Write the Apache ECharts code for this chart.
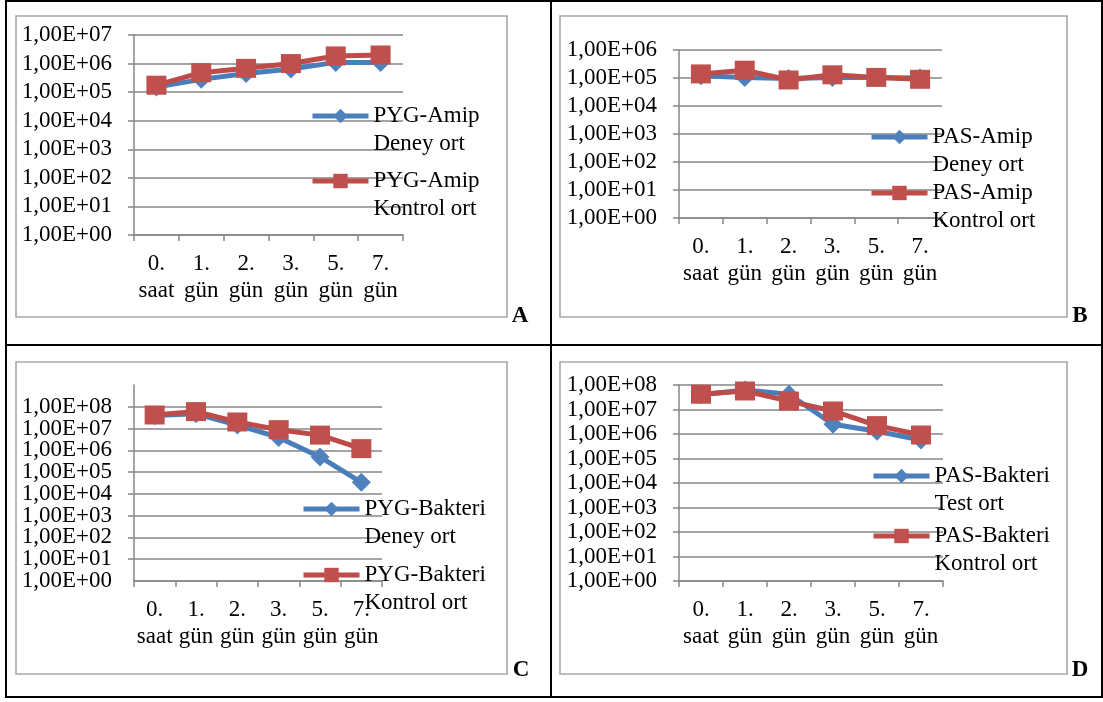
<!DOCTYPE html>
<html>
<head>
<meta charset="utf-8">
<script src="https://cdn.jsdelivr.net/npm/echarts@6/dist/echarts.min.js"></script>
<style>
    html, body {margin: 0; padding: 0; background: #fff;}
    #main {width: 1103px; height: 702px;}
</style>
</head>
<body>
<div id="main"></div>
<script>
    // kategoriler (ortak)
    var days = ['0.\nsaat', '1.\ngün', '2.\ngün', '3.\ngün', '5.\ngün', '7.\ngün'];

    // A - PYG-Amip
    var pygAmipDeney = [1.5e5, 2.8e5, 4.5e5, 6.5e5, 1.1e6, 1.1e6];
    var pygAmipKontrol = [1.75e5, 4.8e5, 6.8e5, 1.0e6, 1.85e6, 2.0e6];

    // B - PAS-Amip
    var pasAmipDeney = [1.2e5, 1.05e5, 9.5e4, 1.05e5, 1.05e5, 1.0e5];
    var pasAmipKontrol = [1.4e5, 1.9e5, 8.5e4, 1.3e5, 1.05e5, 9.0e4];

    // C - PYG-Bakteri
    var pygBakteriDeney = [4.0e7, 4.8e7, 1.45e7, 3.9e6, 5.0e5, 3.4e4];
    var pygBakteriKontrol = [4.2e7, 6.0e7, 2.0e7, 8.9e6, 5.0e6, 1.2e6];

    // D - PAS-Bakteri
    var pasBakteriTest = [4.0e7, 6.2e7, 4.2e7, 2.5e6, 1.3e6, 5.7e5];
    var pasBakteriKontrol = [4.2e7, 5.7e7, 2.2e7, 8.7e6, 2.2e6, 9.1e5];

    var seriesNames = [
        ['PYG-Amip Deney ort', 'PYG-Amip Kontrol ort'],
        ['PAS-Amip Deney ort', 'PAS-Amip Kontrol ort'],
        ['PYG-Bakteri Deney ort', 'PYG-Bakteri Kontrol ort'],
        ['PAS-Bakteri Test ort', 'PAS-Bakteri Kontrol ort']
    ];
    var seriesData = [
        [pygAmipDeney, pygAmipKontrol],
        [pasAmipDeney, pasAmipKontrol],
        [pygBakteriDeney, pygBakteriKontrol],
        [pasBakteriTest, pasBakteriKontrol]
    ];
    var yMax = [1e7, 1e6, 1e9, 1e8];
    // C grafiginde en ust deger (1e9) etiketsiz ve cizgisiz
    var hideTop = [false, false, true, false];

    var FONT = "'Liberation Serif', 'Times New Roman', serif";
    var GRAY = '#868686';
    var BLUE = '#4A7EBB';
    var RED = '#BE4B48';

    // grid konumlari
    var grids = [
        {left: 134, right: 700, top: 35, bottom: 467},
        {left: 679, right: 161, top: 50, bottom: 484},
        {left: 134, right: 721, top: 385, bottom: 121},
        {left: 679, right: 160, top: 385, bottom: 121}
    ];
    // legend: ikon sol x, mavi ve kirmizi ikon merkez y
    var legendPos = [
        {x: 310, y: [116, 181]},
        {x: 869, y: [137, 193]},
        {x: 301, y: [509, 575]},
        {x: 871, y: [476, 536]}
    ];

    function expLabel(v) {
        var e = Math.round(Math.log(v) / Math.LN10);
        return '1,00E+' + (e < 10 ? '0' : '') + e;
    }

    var option = {
        backgroundColor: '#fff',
        animation: false,
        grid: [],
        xAxis: [],
        yAxis: [],
        legend: [],
        series: [],
        graphic: []
    };

    for (var i = 0; i < 4; i++) {
        option.grid.push({
            left: grids[i].left, right: grids[i].right, top: grids[i].top, bottom: grids[i].bottom,
            outerBoundsMode: 'none', containLabel: false
        });
        option.xAxis.push({
            type: 'category',
            gridIndex: i,
            data: days,
            boundaryGap: true,
            axisLine: {show: true, lineStyle: {color: GRAY, width: 1.5}},
            axisTick: {show: true, inside: false, length: 6, lineStyle: {color: GRAY, width: 1.5}},
            axisLabel: {interval: 0, margin: 15, color: '#000', fontFamily: FONT, fontSize: 23, lineHeight: 27},
            splitLine: {show: false}
        });
        option.yAxis.push({
            type: 'log',
            logBase: 10,
            gridIndex: i,
            min: 1,
            max: yMax[i],
            axisLine: {show: true, lineStyle: {color: GRAY, width: 1.5}},
            axisTick: {show: true, inside: false, length: 6, lineStyle: {color: GRAY, width: 1.5}},
            axisLabel: {
                margin: 22, color: '#000', fontFamily: FONT, fontSize: 23, lineHeight: 18,
                // C'de sik etiketler: en alttaki ayri eksende
                showMinLabel: !hideTop[i],
                showMaxLabel: !hideTop[i],
                hideOverlap: false,
                formatter: expLabel
            },
            splitLine: {show: true, showMaxLine: !hideTop[i], lineStyle: {color: GRAY, width: 1.5}},
            minorTick: {show: false},
            minorSplitLine: {show: false}
        });
        for (var k = 0; k < 2; k++) {
            var name = seriesNames[i][k];
            option.series.push({
                name: name,
                type: 'line',
                xAxisIndex: i,
                yAxisIndex: i,
                data: seriesData[i][k],
                symbol: k === 0 ? 'diamond' : 'rect',
                symbolSize: k === 0 ? [19, 19] : [20, 19],
                showAllSymbol: true,
                lineStyle: {color: k === 0 ? BLUE : RED, width: 5},
                itemStyle: {color: k === 0 ? '#4F81BD' : '#C0504D', borderWidth: 0},
                emphasis: {disabled: true},
                z: 2 + k
            });
            option.legend.push({
                data: [name],
                orient: 'vertical',
                left: legendPos[i].x,
                top: legendPos[i].y[k] - 42,
                padding: 0,
                itemWidth: 56,
                itemHeight: 18,
                selectedMode: false,
                lineStyle: {width: 5},
                formatter: function (n) {
                    var p = n.split(' ');
                    return '\n' + p[0] + '\n' + p.slice(1).join(' ');
                },
                textStyle: {color: '#000', fontFamily: FONT, fontSize: 23, lineHeight: 28}
            });
        }
    }

    // C icin sadece 1,00E+00 etiketini gosteren ikinci eksen
    option.yAxis.push({
        type: 'log',
        logBase: 10,
        gridIndex: 2,
        position: 'left',
        min: 1,
        max: yMax[2],
        axisLine: {show: false},
        axisTick: {show: false},
        splitLine: {show: false},
        minorTick: {show: false},
        axisLabel: {
            margin: 22, color: '#000', fontFamily: FONT, fontSize: 23, lineHeight: 18,
            showMinLabel: true,
            showMaxLabel: false,
            formatter: function (v) {
                return v === 1 ? expLabel(v) : '';
            }
        }
    });

    // tablo cizgileri ve gri cerceveler
    option.graphic = [
        {type: 'rect', shape: {x: 6, y: 1, width: 1096, height: 696}, style: {fill: 'none', stroke: '#000', lineWidth: 2}, z: -1},
        {type: 'line', shape: {x1: 551, y1: 0, x2: 551, y2: 697}, style: {stroke: '#000', lineWidth: 2}, z: -1},
        {type: 'line', shape: {x1: 6, y1: 345, x2: 1102, y2: 345}, style: {stroke: '#000', lineWidth: 2}, z: -1},
        {type: 'rect', shape: {x: 16, y: 16, width: 491, height: 301}, style: {fill: 'none', stroke: '#a8a8a8', lineWidth: 1.6}, z: -1},
        {type: 'rect', shape: {x: 560, y: 16, width: 507, height: 301}, style: {fill: 'none', stroke: '#a8a8a8', lineWidth: 1.6}, z: -1},
        {type: 'rect', shape: {x: 16, y: 362, width: 491, height: 312}, style: {fill: 'none', stroke: '#a8a8a8', lineWidth: 1.6}, z: -1},
        {type: 'rect', shape: {x: 560, y: 362, width: 507, height: 312}, style: {fill: 'none', stroke: '#a8a8a8', lineWidth: 1.6}, z: -1},
        {type: 'text', x: 520, y: 316, style: {text: 'A', font: "bold 23px " + FONT, fill: '#000', align: 'center', verticalAlign: 'middle'}},
        {type: 'text', x: 1080, y: 316, style: {text: 'B', font: "bold 23px " + FONT, fill: '#000', align: 'center', verticalAlign: 'middle'}},
        {type: 'text', x: 521, y: 670, style: {text: 'C', font: "bold 23px " + FONT, fill: '#000', align: 'center', verticalAlign: 'middle'}},
        {type: 'text', x: 1080, y: 670, style: {text: 'D', font: "bold 23px " + FONT, fill: '#000', align: 'center', verticalAlign: 'middle'}}
    ];

    var chart = echarts.init(document.getElementById('main'));
    chart.setOption(option);
</script>
</body>
</html>
